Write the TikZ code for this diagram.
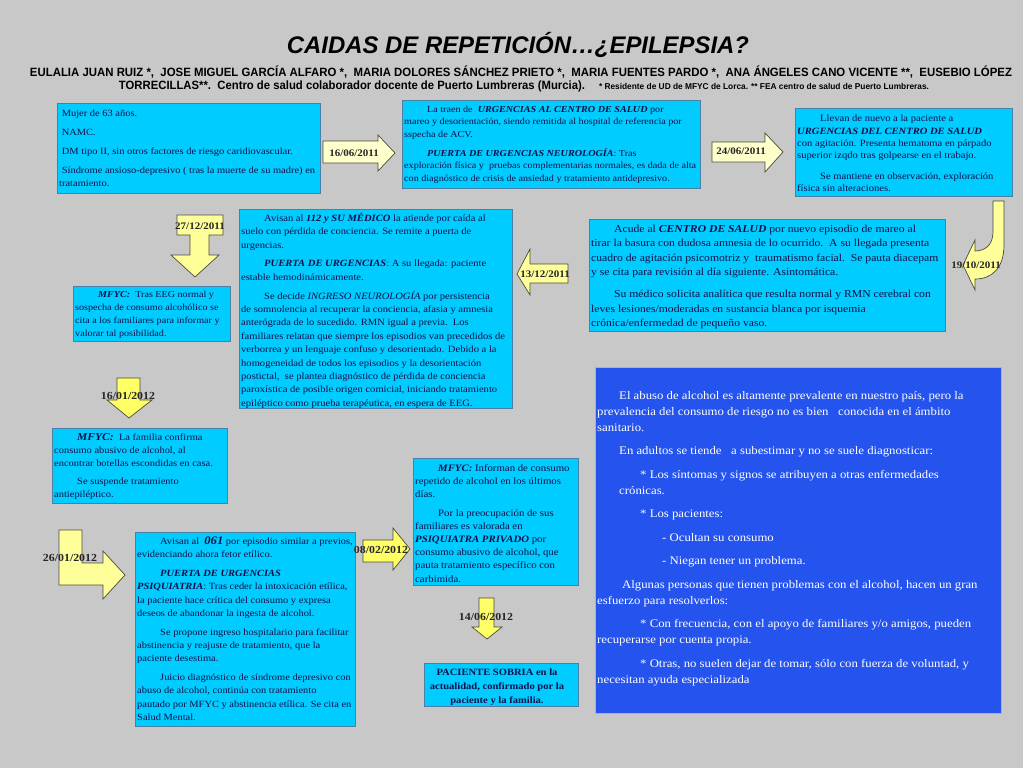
\documentclass[tikz,border=0pt]{standalone}
\usepackage{fontspec}
\usepackage{graphicx}
\setmainfont[FakeStretch=1.1]{Liberation Serif}
\newfontfamily\arialf{Liberation Sans}
\definecolor{bg}{HTML}{C8C8C8}
\definecolor{cy}{HTML}{00CCFF}
\definecolor{cyb}{HTML}{4A7FA8}
\definecolor{navy}{HTML}{10104A}
\definecolor{bluebox}{HTML}{2453EE}
\definecolor{pale}{HTML}{FFFFCC}
\definecolor{yel}{HTML}{FFFF99}
\definecolor{bright}{HTML}{FFFF66}
\definecolor{arrline}{HTML}{4A4A3A}
\newcommand{\myind}{\hspace*{23pt}}
\newcommand{\bi}[1]{\textbf{\textit{#1}}}
\begin{document}
\begin{tikzpicture}[x=1pt,y=-1pt,
  cbox/.style={draw=cyb, line width=0.6pt, fill=cy, anchor=north west, inner sep=0pt},
  bbox/.style={draw=gray!60, line width=0.6pt, fill=bluebox, anchor=north west, inner sep=0pt},
  txt/.style={anchor=north west, inner sep=0pt, align=left, text=navy},
  wtxt/.style={anchor=north west, inner sep=0pt, align=left, text=white},
  arr/.style={draw=arrline, line width=0.7pt, line join=miter},
  datelbl/.style={inner sep=0pt, text=black!85, font=\bfseries\fontsize{10}{12}\selectfont},
  datelblb/.style={inner sep=0pt, text=black!85, font=\bfseries\fontsize{10.8}{13}\selectfont}
]
\useasboundingbox (0,0) rectangle (1023,768);
\fill[bg] (0,0) rectangle (1023,768);

% title and authors
\node[inner sep=0pt] (title) at (518,45) {\resizebox{462pt}{\height}{\arialf\bfseries\itshape\fontsize{24}{28}\selectfont CAIDAS DE REPETICIÓN…¿EPILEPSIA?}};
\node[inner sep=0pt] (auth1) at (521,72) {\resizebox{982pt}{\height}{\arialf\bfseries\fontsize{12}{14}\selectfont EULALIA JUAN RUIZ *,\ \ JOSE MIGUEL GARCÍA ALFARO *,\ \ MARIA DOLORES SÁNCHEZ PRIETO *,\ \ MARIA FUENTES PARDO *,\ \ ANA ÁNGELES CANO VICENTE **,\ \ EUSEBIO LÓPEZ}};
\node[inner sep=0pt] (auth2) at (524,86) {\resizebox{466pt}{\height}{\arialf\bfseries\fontsize{12}{14}\selectfont TORRECILLAS**.\ \ Centro de salud colaborador docente de Puerto Lumbreras (Murcia).}\hspace{14pt}\resizebox{330pt}{\height}{\arialf\bfseries\fontsize{8.5}{10}\selectfont * Residente de UD de MFYC de Lorca. ** FEA centro de salud de Puerto Lumbreras.}};

% ---------- boxes ----------
\node[cbox, minimum width=263pt, minimum height=90pt] (b1) at (57,103) {};
\node[txt, font=\fontsize{9.5}{13}\selectfont] (t1) at (59,107) {\strut\ Mujer de 63 años.\\[6pt]
\ NAMC.\\[6pt]
\ DM tipo II, sin otros factores de riesgo caridiovascular.\\[6pt]
\ Síndrome ansioso-depresivo ( tras la muerte de su madre) en\\
tratamiento.};

\node[cbox, minimum width=298pt, minimum height=88pt] (b2) at (402,100) {};
\node[txt, font=\fontsize{9.2}{12.7}\selectfont] (t2) at (404,103) {\strut\myind La traen de\ \ \bi{URGENCIAS AL CENTRO DE SALUD} por\\
mareo y desorientación, siendo remitida al hospital de referencia por\\
sspecha de ACV.\\[6pt]
\myind \bi{PUERTA DE URGENCIAS NEUROLOGÍA}: Tras\\
exploración física y\ \ pruebas complementarias normales, es dada de alta\\
con diagnóstico de crisis de ansiedad y tratamiento antidepresivo.};

\node[cbox, minimum width=217pt, minimum height=88pt] (b3) at (795,108) {};
\node[txt, font=\fontsize{9.6}{12.3}\selectfont] (t3) at (797,113) {\strut\myind Llevan de nuevo a la paciente a\\
\bi{URGENCIAS DEL CENTRO DE SALUD}\\
con agitación. Presenta hematoma en párpado\\
superior izqdo tras golpearse en el trabajo.\\[8pt]
\myind Se mantiene en observación, exploración\\
física sin alteraciones.};

\node[cbox, minimum width=356pt, minimum height=112pt] (b4) at (589,219) {};
\node[txt, font=\fontsize{10.6}{14.5}\selectfont] (t4) at (591,222) {\strut\myind Acude al \bi{CENTRO DE SALUD} por nuevo episodio de mareo al\\
tirar la basura con dudosa amnesia de lo ocurrido.\ \ A su llegada presenta\\
cuadro de agitación psicomotriz y\ \ traumatismo facial.\ \ Se pauta diacepam\\
y se cita para revisión al día siguiente. Asintomática.\\[7.5pt]
\myind Su médico solicita analítica que resulta normal y RMN cerebral con\\
leves lesiones/moderadas en sustancia blanca por isquemia\\
crónica/enfermedad de pequeño vaso.};

\node[cbox, minimum width=273pt, minimum height=199pt] (b5) at (239,209) {};
\node[txt, font=\fontsize{9.6}{13.4}\selectfont] (t5) at (241,212) {\strut\myind Avisan al \bi{112 y SU MÉDICO} la atiende por caída al\\
suelo con pérdida de conciencia. Se remite a puerta de\\
urgencias.\\[5pt]
\myind \bi{PUERTA DE URGENCIAS}: A su llegada: paciente\\
estable hemodinámicamente.\\[5.5pt]
\myind Se decide \textit{INGRESO NEUROLOGÍA} por persistencia\\
de somnolencia al recuperar la conciencia, afasia y amnesia\\
anterógrada de lo sucedido. RMN igual a previa.\ \ Los\\
familiares relatan que siempre los episodios van precedidos de\\
verborrea y un lenguaje confuso y desorientado. Debido a la\\
homogeneidad de todos los episodios y la desorientación\\
postictal,\ \ se plantea diagnóstico de pérdida de conciencia\\
paroxística de posible origen comicial, iniciando tratamiento\\
epiléptico como prueba terapéutica, en espera de EEG.};

\node[cbox, minimum width=157pt, minimum height=55pt] (b6) at (73,286) {};
\node[txt, font=\fontsize{9.2}{13}\selectfont] (t6) at (75,288) {\strut\myind \bi{MFYC:}\ \ Tras EEG normal y\\
sospecha de consumo alcohólico se\\
cita a los familiares para informar y\\
valorar tal posibilidad.};

\node[cbox, minimum width=175pt, minimum height=75pt] (b7) at (52,428) {};
\node[txt, font=\fontsize{9.5}{13}\selectfont] (t7) at (54,431) {\strut\myind {\fontsize{10.5}{13}\selectfont\bi{MFYC:}}\ \ La familia confirma\\
consumo abusivo de alcohol, al\\
encontrar botellas escondidas en casa.\\[5pt]
\myind Se suspende tratamiento\\
antiepiléptico.};

\node[cbox, minimum width=220pt, minimum height=194pt] (b8) at (135,532) {};
\node[txt, font=\fontsize{9.5}{13.3}\selectfont] (t8) at (137,535) {\strut\myind Avisan al\ \ {\fontsize{11.5}{13.3}\selectfont\bi{061}} por episodio similar a previos,\\
evidenciando ahora fetor etílico.\\[5.4pt]
\myind \bi{PUERTA DE URGENCIAS}\\
\bi{PSIQUIATRIA}: Tras ceder la intoxicación etílica,\\
la paciente hace crítica del consumo y expresa\\
deseos de abandonar la ingesta de alcohol.\\[5.4pt]
\myind Se propone ingreso hospitalario para facilitar\\
abstinencia y reajuste de tratamiento, que la\\
paciente desestima.\\[5.4pt]
\myind Juicio diagnóstico de síndrome depresivo con\\
abuso de alcohol, continúa con tratamiento\\
pautado por MFYC y abstinencia etílica. Se cita en\\
Salud Mental.};

\node[cbox, minimum width=165pt, minimum height=127pt] (b9) at (413,458) {};
\node[txt, font=\fontsize{9.8}{13.2}\selectfont] (t9) at (415,462) {\strut\myind \bi{MFYC:} Informan de consumo\\
repetido de alcohol en los últimos\\
días.\\[5pt]
\myind Por la preocupación de sus\\
familiares es valorada en\\
\bi{PSIQUIATRA PRIVADO} por\\
consumo abusivo de alcohol, que\\
pauta tratamiento específico con\\
carbimida.};

\node[cbox, minimum width=154pt, minimum height=43pt] (b10) at (424,663) {};
\node[anchor=north, inner sep=0pt, align=center, text=navy, font=\bfseries\fontsize{9.6}{14}\selectfont] (t10) at (497,665) {\strut PACIENTE SOBRIA en la\\
actualidad, confirmado por la\\
paciente y la familia.};

\node[bbox, minimum width=406pt, minimum height=346pt] (info) at (595,367) {};
\node[wtxt, font=\fontsize{11.6}{16}\selectfont] (tinfo) at (597,388) {\strut\hspace*{22pt}El abuso de alcohol es altamente prevalente en nuestro país, pero la\\
prevalencia del consumo de riesgo no es bien\ \ \ conocida en el ámbito\\
sanitario.\\[7.5pt]
\hspace*{22pt}En adultos se tiende\ \ \ a subestimar y no se suele diagnosticar:\\[7.5pt]
\hspace*{43pt}* Los síntomas y signos se atribuyen a otras enfermedades\\
\hspace*{22pt}crónicas.\\[7.5pt]
\hspace*{43pt}* Los pacientes:\\[7.5pt]
\hspace*{65pt}- Ocultan su consumo\\[7.5pt]
\hspace*{65pt}- Niegan tener un problema.\\[7.5pt]
\hspace*{25pt}Algunas personas que tienen problemas con el alcohol, hacen un gran\\
esfuerzo para resolverlos:\\[7.5pt]
\hspace*{43pt}* Con frecuencia, con el apoyo de familiares y/o amigos, pueden\\
recuperarse por cuenta propia.\\[7.5pt]
\hspace*{43pt}* Otras, no suelen dejar de tomar, sólo con fuerza de voluntad, y\\
necesitan ayuda especializada};

% ---------- block arrows ----------
% 16/06/2011
\filldraw[arr, fill=pale] (323,141) -- (378,141) -- (378,135) -- (395,153) -- (378,171) -- (378,163) -- (323,163) -- cycle;
\node[datelbl] (d1) at (354,153) {16/06/2011};
% 24/06/2011
\filldraw[arr, fill=pale] (712,142) -- (765,142) -- (765,133) -- (783,152) -- (765,172) -- (765,162) -- (712,162) -- cycle;
\node[datelbl] (d2) at (741,151) {24/06/2011};
% 19/10/2011 curved
\filldraw[arr, fill=yel] (993,201) -- (1004,201) -- (1004,245) .. controls (1004,268) and (992,279) .. (975,279) -- (975,290) -- (963,265) -- (975,240) -- (975,251) .. controls (985,251) and (993,245) .. (993,232) -- cycle;
\node[datelbl] (d3) at (976,265) {19/10/2011};
% 13/12/2011 left
\filldraw[arr, fill=yel] (568,264) -- (530,264) -- (530,249) -- (517,274) -- (530,295) -- (530,283) -- (568,283) -- cycle;
\node[datelbl] (d4) at (545,274) {13/12/2011};
% 27/12/2011 down callout
\filldraw[arr, fill=yel] (177,215) -- (223,215) -- (223,235) -- (209,235) -- (209,255) -- (219,255) -- (195,277) -- (171,255) -- (190,255) -- (190,235) -- (177,235) -- cycle;
\node[datelbl] (d5) at (200,226) {27/12/2011};
% 16/01/2012 down
\filldraw[arr, fill=bright] (117,378) -- (140,378) -- (140,400) -- (152,400) -- (129,418) -- (107,400) -- (117,400) -- cycle;
\node[datelblb] (d6) at (128,396) {16/01/2012};
% 26/01/2012 bent
\filldraw[arr, fill=yel] (59,530) -- (82,530) -- (82,563) -- (103,563) -- (103,551) -- (125,575) -- (103,599) -- (103,585) -- (59,585) -- cycle;
\node[datelblb] (d7) at (70,558) {26/01/2012};
% 08/02/2012 right
\filldraw[arr, fill=bright] (363,540) -- (393,540) -- (393,528) -- (410,549) -- (393,570) -- (393,562) -- (363,562) -- cycle;
\node[datelblb] (d8) at (381,550) {08/02/2012};
% 14/06/2012 down
\filldraw[arr, fill=bright] (479,598) -- (494,598) -- (494,627) -- (502,627) -- (487,639) -- (472,627) -- (479,627) -- cycle;
\node[datelblb] (d9) at (486,617) {14/06/2012};
\end{tikzpicture}
\end{document}
